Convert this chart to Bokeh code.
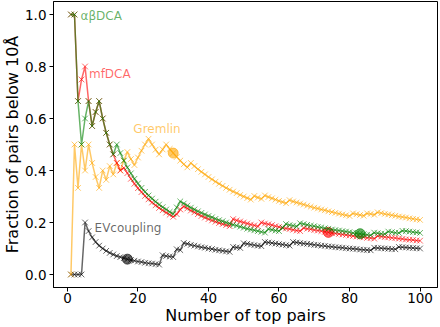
from bokeh.plotting import figure
from bokeh.models import Range1d, FixedTicker, ColumnDataSource
from bokeh.core.properties import value
from bokeh.embed import file_html
from bokeh.resources import INLINE

FONT = "DejaVu Sans"

# number of top-ranked pairs considered
top_pairs = list(range(1, 101))

ab_dca = [
    1.0, 1.0, 0.667, 0.5, 0.6, 0.667, 0.571, 0.625, 0.667, 0.6,
    0.545, 0.5, 0.462, 0.5, 0.467, 0.438, 0.412, 0.389, 0.368, 0.35,
    0.333, 0.318, 0.304, 0.292, 0.28, 0.269, 0.259, 0.25, 0.241, 0.233,
    0.258, 0.281, 0.273, 0.265, 0.257, 0.25, 0.243, 0.237, 0.231, 0.225,
    0.22, 0.214, 0.209, 0.205, 0.2, 0.196, 0.191, 0.188, 0.184, 0.18,
    0.176, 0.173, 0.17, 0.167, 0.164, 0.161, 0.175, 0.172, 0.169, 0.167,
    0.18, 0.194, 0.19, 0.188, 0.185, 0.197, 0.194, 0.191, 0.188, 0.186,
    0.183, 0.181, 0.178, 0.176, 0.173, 0.171, 0.169, 0.167, 0.165, 0.163,
    0.16, 0.159, 0.157, 0.155, 0.153, 0.151, 0.161, 0.159, 0.157, 0.156,
    0.165, 0.163, 0.161, 0.16, 0.168, 0.167, 0.165, 0.163, 0.162, 0.16,
]

mf_dca = [
    1.0, 1.0, 0.667, 0.75, 0.8, 0.667, 0.571, 0.625, 0.667, 0.6,
    0.545, 0.5, 0.462, 0.429, 0.4, 0.41, 0.39, 0.368, 0.349, 0.332,
    0.317, 0.302, 0.289, 0.277, 0.266, 0.256, 0.247, 0.238, 0.23, 0.222,
    0.232, 0.25, 0.262, 0.254, 0.246, 0.239, 0.232, 0.225, 0.219, 0.213,
    0.208, 0.203, 0.198, 0.194, 0.19, 0.186, 0.213, 0.208, 0.204, 0.2,
    0.196, 0.192, 0.189, 0.185, 0.2, 0.196, 0.193, 0.19, 0.186, 0.183,
    0.18, 0.177, 0.175, 0.172, 0.169, 0.167, 0.179, 0.176, 0.174, 0.171,
    0.169, 0.167, 0.164, 0.162, 0.16, 0.158, 0.156, 0.154, 0.152, 0.15,
    0.148, 0.146, 0.145, 0.143, 0.141, 0.14, 0.138, 0.148, 0.146, 0.144,
    0.143, 0.141, 0.14, 0.138, 0.137, 0.135, 0.134, 0.133, 0.131, 0.13,
]

gremlin = [
    0.0, 0.5, 0.333, 0.5, 0.4, 0.5, 0.429, 0.375, 0.333, 0.4,
    0.364, 0.417, 0.385, 0.429, 0.4, 0.438, 0.471, 0.444, 0.421, 0.45,
    0.476, 0.5, 0.522, 0.5, 0.48, 0.462, 0.481, 0.5, 0.483, 0.467,
    0.452, 0.438, 0.424, 0.412, 0.429, 0.417, 0.405, 0.395, 0.385, 0.375,
    0.366, 0.357, 0.349, 0.341, 0.333, 0.326, 0.319, 0.313, 0.306, 0.3,
    0.294, 0.288, 0.302, 0.296, 0.291, 0.304, 0.298, 0.293, 0.288, 0.283,
    0.279, 0.274, 0.286, 0.281, 0.277, 0.273, 0.269, 0.265, 0.261, 0.257,
    0.254, 0.25, 0.247, 0.243, 0.24, 0.237, 0.234, 0.231, 0.228, 0.225,
    0.235, 0.232, 0.229, 0.226, 0.235, 0.233, 0.23, 0.239, 0.236, 0.233,
    0.231, 0.228, 0.226, 0.223, 0.221, 0.219, 0.216, 0.214, 0.212, 0.21,
]

ev_coupling = [
    0.0, 0.0, 0.0, 0.0, 0.2, 0.167, 0.143, 0.125, 0.111, 0.1,
    0.091, 0.083, 0.077, 0.071, 0.067, 0.063, 0.059, 0.056, 0.053, 0.05,
    0.048, 0.045, 0.043, 0.042, 0.04, 0.038, 0.074, 0.071, 0.069, 0.067,
    0.097, 0.094, 0.121, 0.118, 0.114, 0.111, 0.108, 0.105, 0.103, 0.1,
    0.098, 0.095, 0.093, 0.091, 0.089, 0.087, 0.106, 0.104, 0.102, 0.12,
    0.118, 0.115, 0.113, 0.111, 0.109, 0.125, 0.123, 0.121, 0.119, 0.117,
    0.115, 0.113, 0.111, 0.125, 0.123, 0.121, 0.119, 0.118, 0.116, 0.114,
    0.113, 0.111, 0.11, 0.108, 0.107, 0.105, 0.104, 0.103, 0.101, 0.1,
    0.099, 0.098, 0.096, 0.095, 0.094, 0.093, 0.103, 0.102, 0.101, 0.1,
    0.099, 0.098, 0.097, 0.106, 0.105, 0.104, 0.103, 0.102, 0.101, 0.1,
]

# number of top pairs at which each method's highlighted point sits
highlight_at = {"αβDCA": 83, "mfDCA": 74, "Gremlin": 30, "EVcoupling": 17}

x_ticks = [0, 20, 40, 60, 80, 100]
y_ticks = [0.0, 0.2, 0.4, 0.6, 0.8, 1.0]

# (name, values, colour, label anchor in data units)
series = [
    ("EVcoupling", ev_coupling, "black", (7.7, 0.178)),
    ("Gremlin", gremlin, "orange", (18.7, 0.56)),
    ("mfDCA", mf_dca, "red", (6.1, 0.773)),
    ("αβDCA", ab_dca, "green", (3.7, 0.993)),
]

p = figure(
    width=440, height=327,
    output_backend="svg", toolbar_location=None, title=None,
    x_range=Range1d(-3.95, 104.95), y_range=Range1d(-0.05, 1.05),
    min_border_left=0, min_border_right=3, min_border_top=1, min_border_bottom=0,
)
p.background_fill_color = "white"
p.border_fill_color = "white"
p.outline_line_color = "black"
p.outline_line_width = 1
p.grid.visible = False

ALPHA = 0.6
for name, vals, col, (lx, ly) in series:
    src = ColumnDataSource(dict(x=top_pairs, y=vals))
    p.line("x", "y", source=src, line_color=col, line_width=1.5, line_alpha=ALPHA)
    p.scatter("x", "y", source=src, marker="x", size=8, line_color=col,
              line_alpha=ALPHA, line_width=1)
    k = highlight_at[name]
    p.scatter([k], [vals[k - 1]], marker="circle", size=10, fill_color=col,
              fill_alpha=ALPHA, line_color=col, line_alpha=ALPHA)
    p.text([lx], [ly], text=[name], text_color=col, text_alpha=ALPHA,
           text_font=value(FONT), text_font_size="12px",
           text_align="left", text_baseline="middle")

for ax in (p.xaxis[0], p.yaxis[0]):
    ax.axis_line_color = "black"
    ax.major_tick_line_color = "black"
    ax.major_tick_out = 4
    ax.major_tick_in = 0
    ax.minor_tick_line_color = None
    ax.major_label_text_font = FONT
    ax.major_label_text_font_size = "13.5px"
    ax.major_label_text_color = "black"
    ax.axis_label_text_font = FONT
    ax.axis_label_text_font_size = "16px"
    ax.axis_label_text_font_style = "normal"
    ax.axis_label_text_color = "black"

p.xaxis.ticker = FixedTicker(ticks=x_ticks)
p.yaxis.ticker = FixedTicker(ticks=y_ticks)
p.yaxis.major_label_overrides = {t: f"{t:.1f}" for t in y_ticks}
p.xaxis.axis_label = "Number of top pairs"
p.yaxis.axis_label = "Fraction of pairs below 10Å"
p.xaxis.major_label_standoff = 1
p.xaxis.axis_label_standoff = 0
p.yaxis.major_label_standoff = 3
p.yaxis.axis_label_standoff = 0

open("out.html", "w").write(file_html(p, INLINE))
